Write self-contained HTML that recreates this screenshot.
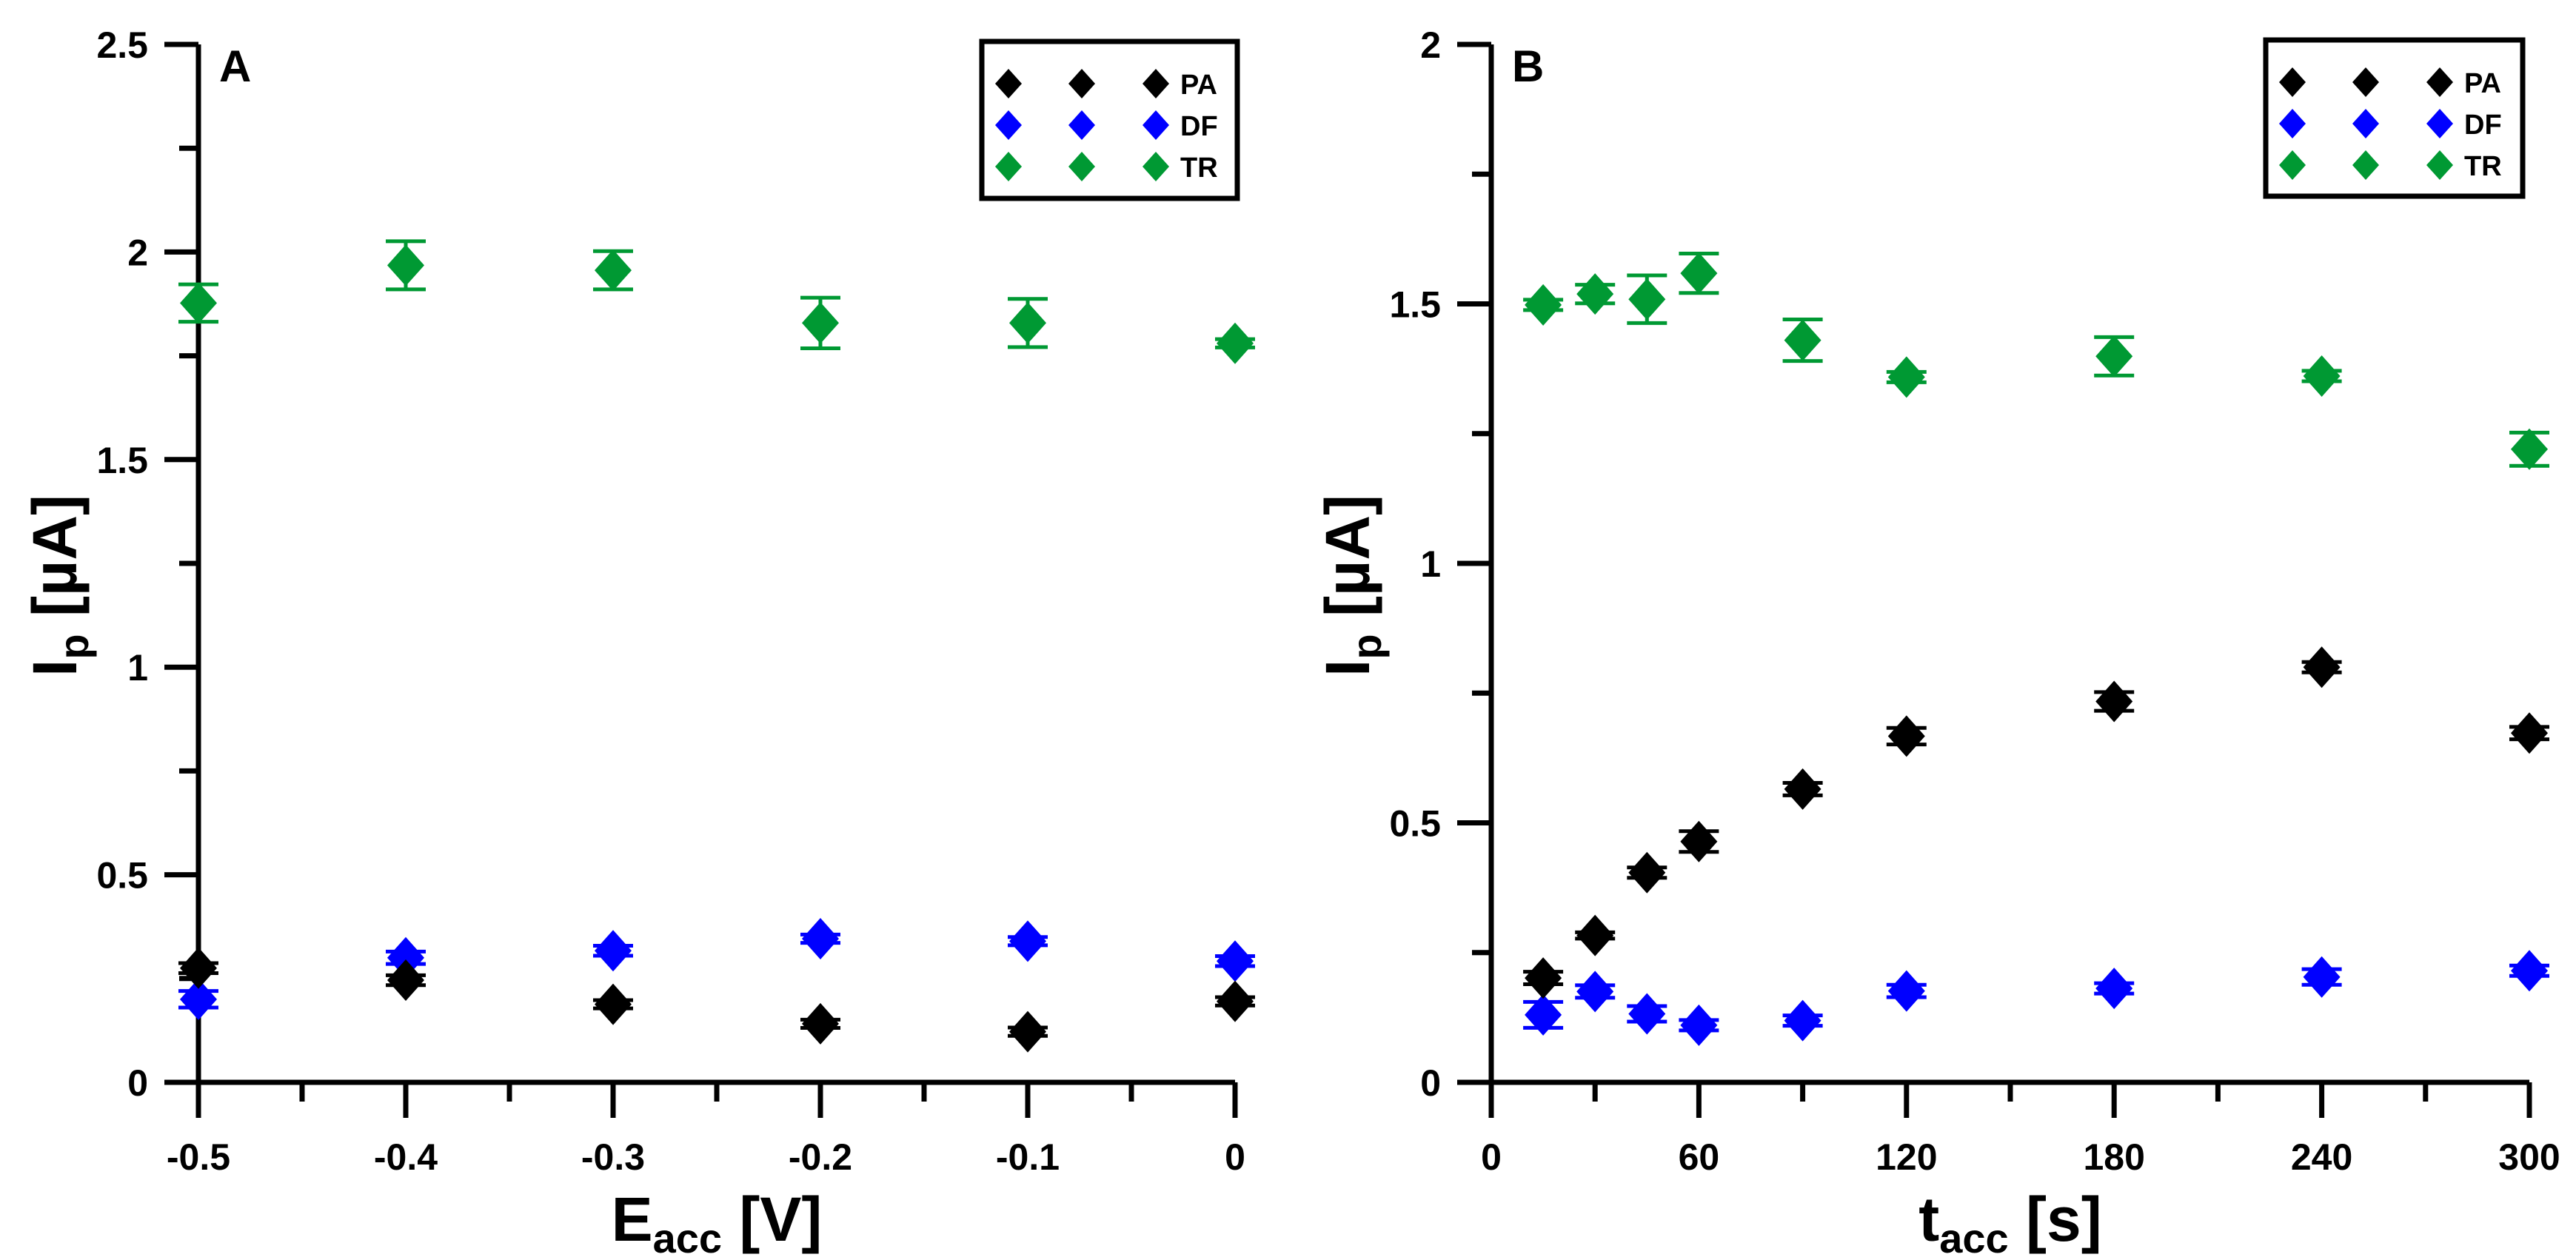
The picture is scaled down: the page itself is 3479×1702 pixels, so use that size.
<!DOCTYPE html>
<html><head><meta charset="utf-8"><style>
html,body{margin:0;padding:0;background:#fff;}
svg{display:block;font-family:"Liberation Sans",Arial,sans-serif;font-weight:bold;}
</style></head><body>
<svg id="chart" width="3479" height="1702" viewBox="0 0 3479 1702" xmlns="http://www.w3.org/2000/svg"></svg>
<script>
// Panel A data
const aX = [-0.5,-0.4,-0.3,-0.2,-0.1,0];
const aPA = [0.275,0.246,0.188,0.141,0.122,0.195];
const aPAerr = [0.012,0.012,0.01,0.01,0.01,0.01];
const aDF = [0.20,0.30,0.317,0.346,0.34,0.292];
const aDFerr = [0.02,0.015,0.012,0.01,0.01,0.012];
const aTR = [1.877,1.968,1.956,1.829,1.829,1.78];
const aTRerr = [0.045,0.058,0.046,0.061,0.058,0.01];
const aXTicks = [-0.5,-0.4,-0.3,-0.2,-0.1,0];
const aXTickLabels = ["-0.5","-0.4","-0.3","-0.2","-0.1","0"];
const aXMinor = [-0.45,-0.35,-0.25,-0.15,-0.05];
const aYTicks = [0,0.5,1,1.5,2,2.5];
const aYTickLabels = ["0","0.5","1","1.5","2","2.5"];
const aYMinor = [0.25,0.75,1.25,1.75,2.25];
// Panel B data
const bX = [15,30,45,60,90,120,180,240,300];
const bPA = [0.201,0.283,0.404,0.464,0.565,0.667,0.734,0.80,0.673];
const bPAerr = [0.012,0.006,0.01,0.02,0.012,0.016,0.018,0.01,0.012];
const bDF = [0.13,0.175,0.132,0.11,0.119,0.176,0.181,0.203,0.215];
const bDFerr = [0.025,0.012,0.015,0.01,0.01,0.012,0.01,0.015,0.01];
const bTR = [1.498,1.519,1.509,1.559,1.43,1.359,1.399,1.361,1.22];
const bTRerr = [0.01,0.018,0.046,0.038,0.04,0.01,0.037,0.01,0.032];
const bXTicks = [0,60,120,180,240,300];
const bXTickLabels = ["0","60","120","180","240","300"];
const bXMinor = [30,90,150,210,270];
const bYTicks = [0,0.5,1,1.5,2];
const bYTickLabels = ["0","0.5","1","1.5","2"];
const bYMinor = [0.25,0.75,1.25,1.75];

const NS="http://www.w3.org/2000/svg";
const svg=document.getElementById('chart');
function mk(tag,attrs,parent){const e=document.createElementNS(NS,tag);for(const k in attrs)e.setAttribute(k,attrs[k]);(parent||svg).appendChild(e);return e;}
const COL={PA:"#000000",DF:"#0000ff",TR:"#009933"};

function panel(cfg){
  const g=mk('g',{});
  
  
  const sx=v=>cfg.x0+(v-cfg.xmin)/(cfg.xmax-cfg.xmin)*(cfg.x1-cfg.x0);
  const sy=v=>cfg.y0-(v-cfg.ymin)/(cfg.ymax-cfg.ymin)*(cfg.y0-cfg.y1);
  // axes
  const ax=mk('line',{x1:cfg.x0-46,y1:cfg.y0,x2:cfg.x1,y2:cfg.y0,stroke:'#000','stroke-width':7},g);
  
  const ay=mk('line',{x1:cfg.x0,y1:cfg.y1,x2:cfg.x0,y2:cfg.y0+48,stroke:'#000','stroke-width':7},g);
  
  cfg.xt.forEach((v,i)=>{
    const t=mk('line',{x1:sx(v),y1:cfg.y0,x2:sx(v),y2:cfg.y0+48,stroke:'#000','stroke-width':7},g);
    
    const l=mk('text',{x:sx(v),y:cfg.y0+118,'text-anchor':'middle','font-size':50},g);
    l.textContent=cfg.xl[i];
    
  });
  cfg.xm.forEach(v=>{
    const t=mk('line',{x1:sx(v),y1:cfg.y0,x2:sx(v),y2:cfg.y0+26,stroke:'#000','stroke-width':7},g);
    
  });
  cfg.yt.forEach((v,i)=>{
    const t=mk('line',{x1:cfg.x0-46,y1:sy(v),x2:cfg.x0,y2:sy(v),stroke:'#000','stroke-width':7},g);
    
    const l=mk('text',{x:cfg.x0-68,y:sy(v)+18,'text-anchor':'end','font-size':50},g);
    l.textContent=cfg.yl[i];
    
  });
  cfg.ym.forEach(v=>{
    const t=mk('line',{x1:cfg.x0-26,y1:sy(v),x2:cfg.x0,y2:sy(v),stroke:'#000','stroke-width':7},g);
    
  });
  // titles
  const xt=mk('text',{x:(cfg.x0+cfg.x1)/2,y:1676,'text-anchor':'middle','font-size':84},g);
  xt.innerHTML=cfg.xtitle;
  
  const yt=mk('text',{x:0,y:0,'text-anchor':'middle','font-size':84,transform:`translate(${cfg.x0-165},${(cfg.y0+cfg.y1)/2+30}) rotate(-90)`},g);
  yt.innerHTML='I<tspan font-size="56" dy="16">p</tspan><tspan dy="-16"> [µA]</tspan>';
  
  const pl=mk('text',{x:cfg.x0+28,y:cfg.y1+50,'font-size':60},g);
  pl.textContent=cfg.letter;
  
  // series
  const series=[['TR',cfg.TR,cfg.TRe],['DF',cfg.DF,cfg.DFe],['PA',cfg.PA,cfg.PAe]];
  series.forEach(([nm,vals,errs])=>{
    const sg=mk('g',{},g);
    
    vals.forEach((v,i)=>{
      const x=sx(cfg.X[i]);const y=sy(v);
      const yT=sy(v+errs[i]), yB=sy(v-errs[i]);
      const eb=mk('path',{d:`M${x},${yT}V${yB}M${x-27},${yT}H${x+27}M${x-27},${yB}H${x+27}`,stroke:COL[nm],'stroke-width':5,fill:'none'},sg);
      
      const d=mk('path',{d:`M${x},${y-28}L${x+25},${y}L${x},${y+28}L${x-25},${y}Z`,fill:COL[nm]},sg);
      
    });
  });
  // legend
  const lg=mk('g',{},g);
  
  const bx=mk('rect',{x:cfg.lx,y:cfg.ly,width:cfg.lw,height:cfg.lh,fill:'#fff',stroke:'#000','stroke-width':7},lg);
  
  ['PA','DF','TR'].forEach((nm,r)=>{
    const yy=cfg.ly+57+r*56;
    const eg=mk('g',{},lg);
    
    [36,135,235].forEach(dx=>{
      const x=cfg.lx+dx;
      mk('path',{d:`M${x},${yy-20}L${x+18},${yy}L${x},${yy+20}L${x-18},${yy}Z`,fill:COL[nm]},eg);
    });
    const t=mk('text',{x:cfg.lx+268,y:yy+14,'font-size':38},eg);
    t.textContent=nm;
  });
}

panel({name:'panel-a',letter:'A',x0:268,x1:1668,y0:1462,y1:60,xmin:-0.5,xmax:0,ymin:0,ymax:2.5,
  xt:aXTicks,xl:aXTickLabels,xm:aXMinor,yt:aYTicks,yl:aYTickLabels,ym:aYMinor,
  X:aX,PA:aPA,PAe:aPAerr,DF:aDF,DFe:aDFerr,TR:aTR,TRe:aTRerr,
  xtitle:'E<tspan font-size="56" dy="16">acc</tspan><tspan dy="-16"> [V]</tspan>',
  lx:1326,ly:56,lw:345,lh:212});
panel({name:'panel-b',letter:'B',x0:2014,x1:3416,y0:1462,y1:60,xmin:0,xmax:300,ymin:0,ymax:2,
  xt:bXTicks,xl:bXTickLabels,xm:bXMinor,yt:bYTicks,yl:bYTickLabels,ym:bYMinor,
  X:bX,PA:bPA,PAe:bPAerr,DF:bDF,DFe:bDFerr,TR:bTR,TRe:bTRerr,
  xtitle:'t<tspan font-size="56" dy="16">acc</tspan><tspan dy="-16"> [s]</tspan>',
  lx:3060,ly:54,lw:347,lh:211});
</script>
</body></html>
